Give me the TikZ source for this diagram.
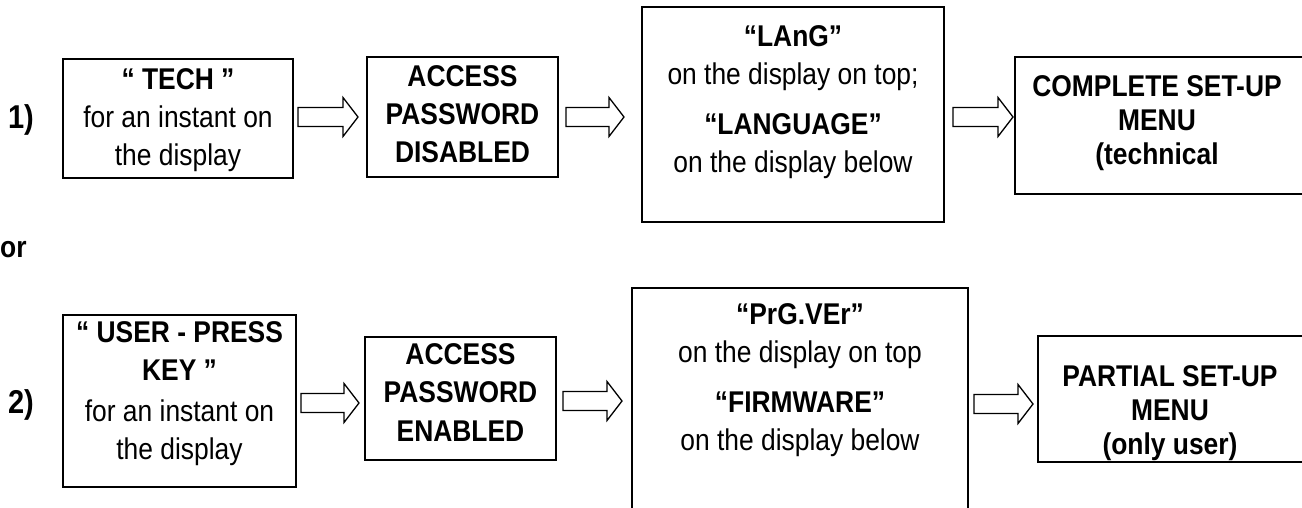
\documentclass[tikz,border=0pt]{standalone}
\usepackage{fontspec}
\setmainfont{Liberation Sans}[FakeStretch=0.88]
\usetikzlibrary{calc}
\tikzset{
  box/.style={draw, line width=1.8pt, inner sep=0pt, outer sep=0pt},
  txt/.style={align=center, inner sep=0pt, anchor=north, font=\fontsize{30pt}{38pt}\selectfont},
  lbl/.style={inner sep=0pt, font=\fontsize{33pt}{36pt}\selectfont\bfseries},
  blockarrow/.style={draw, line width=1.3pt, line join=miter,
    to path={let \p1=(\tikztostart), \p2=(\tikztotarget) in
      (\x1,\y1+9.5pt) -- (\x2-15pt,\y1+9.5pt) -- (\x2-15pt,\y1+19.5pt) -- (\x2,\y1)
      -- (\x2-15pt,\y1-19.5pt) -- (\x2-15pt,\y1-9.5pt) -- (\x1,\y1-9.5pt) -- cycle}}
}
\begin{document}
\begin{tikzpicture}[x=1pt,y=-1pt]
\path[use as bounding box, clip] (0,0) rectangle (1302,508);
\fill[white] (0,0) rectangle (1302,508);

% row 1
\node[lbl] (n1) at (21,120) {1)};
\node[box, minimum width=230pt, minimum height=119pt] (b11) at (178,118.5) {};
\node[txt] (t11) at (178,68) {\textbf{“ TECH ”}\\for an instant on\\the display};
\node[box, minimum width=191pt, minimum height=120pt] (b12) at (462.5,117) {};
\node[txt] (t12) at (462.5,65) {\textbf{ACCESS}\\\textbf{PASSWORD}\\\textbf{DISABLED}};
\node[box, minimum width=302pt, minimum height=215pt] (b13) at (793,114.5) {};
\node[txt] (t13) at (793,25) {\textbf{“LAnG”}\\on the display on top;\\[12pt]\textbf{“LANGUAGE”}\\on the display below};
\node[box, minimum width=315pt, minimum height=137pt] (b14) at (1172.5,125.5) {};
\node[txt, font=\fontsize{30pt}{34pt}\selectfont\bfseries] (t14) at (1157,75) {COMPLETE SET-UP\\MENU\\(technical};

\coordinate (a11s) at (298,117); \coordinate (a11e) at (358,117);
\coordinate (a12s) at (566,117); \coordinate (a12e) at (624,117);
\coordinate (a13s) at (953,117); \coordinate (a13e) at (1013,117);
\draw[blockarrow] (a11s) to (a11e);
\draw[blockarrow] (a12s) to (a12e);
\draw[blockarrow] (a13s) to (a13e);

\node[lbl, anchor=base west, font=\fontsize{30pt}{36pt}\selectfont\bfseries] (or) at (0,257) {or};

% row 2
\node[lbl] (n2) at (21,405) {2)};
\node[box, minimum width=233pt, minimum height=172pt] (b21) at (179.5,401) {};
\node[txt] (t21) at (179.5,321) {\textbf{“ USER - PRESS}\\\textbf{KEY ”}\\[3pt]for an instant on\\the display};
\node[box, minimum width=191pt, minimum height=123pt] (b22) at (460.5,398.5) {};
\node[txt, font=\fontsize{30pt}{38.5pt}\selectfont\bfseries] (t22) at (460.5,343) {ACCESS\\PASSWORD\\ENABLED};
\node[box, minimum width=336pt, minimum height=242pt] (b23) at (800,409) {};
\node[txt] (t23) at (800,303) {\textbf{“PrG.VEr”}\\on the display on top\\[12pt]\textbf{“FIRMWARE”}\\on the display below};
\begin{scope}
  \clip (1038,336) rectangle (1330,462);
  \node[txt, font=\fontsize{30pt}{34pt}\selectfont\bfseries] (t24) at (1170,365) {PARTIAL SET-UP\\MENU\\(only user)};
\end{scope}
\node[box, minimum width=292pt, minimum height=126pt] (b24) at (1184,399) {};

\coordinate (a21s) at (301,403); \coordinate (a21e) at (359,403);
\coordinate (a22s) at (563,401); \coordinate (a22e) at (622,401);
\coordinate (a23s) at (974,404); \coordinate (a23e) at (1033,404);
\draw[blockarrow] (a21s) to (a21e);
\draw[blockarrow] (a22s) to (a22e);
\draw[blockarrow] (a23s) to (a23e);
\end{tikzpicture}
\end{document}
